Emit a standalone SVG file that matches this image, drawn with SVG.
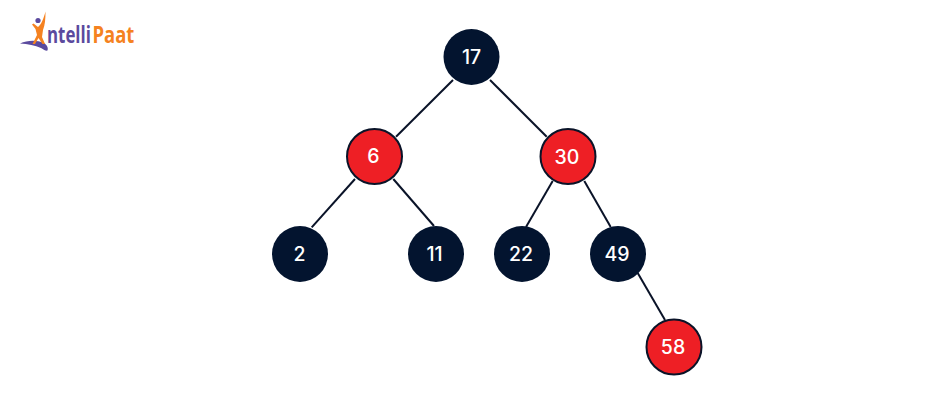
<svg xmlns="http://www.w3.org/2000/svg" width="950" height="413" viewBox="0 0 950 413">
<style>
.edge{stroke:#0a1328;stroke-width:2;fill:none}
.b{fill:#03142f}
.r{fill:#ee1f25;stroke:#0a1328;stroke-width:2}
.t{font-family:Inter,"Liberation Sans",sans-serif;font-size:19.500px;font-weight:500;fill:#fff;text-anchor:middle}
.logo{font-family:"Open Sans","Liberation Sans",sans-serif;font-size:22.500px;font-weight:700}
</style>
<rect width="950" height="413" fill="#fff"/>
<g id="logo">
<path d="M20 43.500C27 40.500 36 39.500 44 43C47 45 48.500 48 47.500 50.500C46 51 44 50 41 48C35 45.500 28 44 20 43.500Z" fill="#5b4a9e"/>
<path d="M45.500 11.500C45.500 19 45 25 43 30L42 37L45 44L42.500 44L38.500 38L35 44L32.500 44L37 35L35.500 29L32 24.500L33.500 23.500L38 27C41 25 43.500 19 45.500 11.500Z" fill="#f58220"/>
<circle cx="38" cy="20.500" r="2.600" fill="#5b4a9e"/>
<text class="logo" transform="translate(47 42.500) scale(.75 1)" fill="#5b4a9e">ntelli</text>
<text class="logo" transform="translate(92.500 42.500) scale(.82 1)" fill="#f58220">Paat</text>
</g>
<g id="connectors">
<line class="edge" x1="453" y1="80" x2="396" y2="136.700"/>
<line class="edge" x1="490" y1="80" x2="546.700" y2="136.700"/>
<line class="edge" x1="355" y1="179" x2="311.700" y2="227.300"/>
<line class="edge" x1="393.300" y1="179" x2="434" y2="226"/>
<line class="edge" x1="552.700" y1="181" x2="526" y2="227"/>
<line class="edge" x1="584.300" y1="181" x2="610.700" y2="227"/>
<line class="edge" x1="637.700" y1="273" x2="665" y2="320"/>
</g>
<g id="node-17"><circle class="b" cx="471.500" cy="57" r="28"/><text class="t" x="471.500" y="63.700">17</text></g>
<g id="node-6"><circle class="r" cx="374.500" cy="156.500" r="27.500"/><text class="t" x="373.500" y="163">6</text></g>
<g id="node-30"><circle class="r" cx="568" cy="156.500" r="27.500"/><text class="t" x="567" y="164">30</text></g>
<g id="node-2"><circle class="b" cx="300" cy="254" r="28"/><text class="t" x="299.500" y="260.700">2</text></g>
<g id="node-11"><circle class="b" cx="436" cy="254" r="28"/><text class="t" x="434.500" y="260.700">11</text></g>
<g id="node-22"><circle class="b" cx="522" cy="254" r="28"/><text class="t" x="521" y="260.700">22</text></g>
<g id="node-49"><circle class="b" cx="618" cy="254" r="28"/><text class="t" x="617" y="260.700">49</text></g>
<g id="node-58"><circle class="r" cx="674" cy="347" r="27.500"/><text class="t" x="673" y="353.700">58</text></g>
</svg>
